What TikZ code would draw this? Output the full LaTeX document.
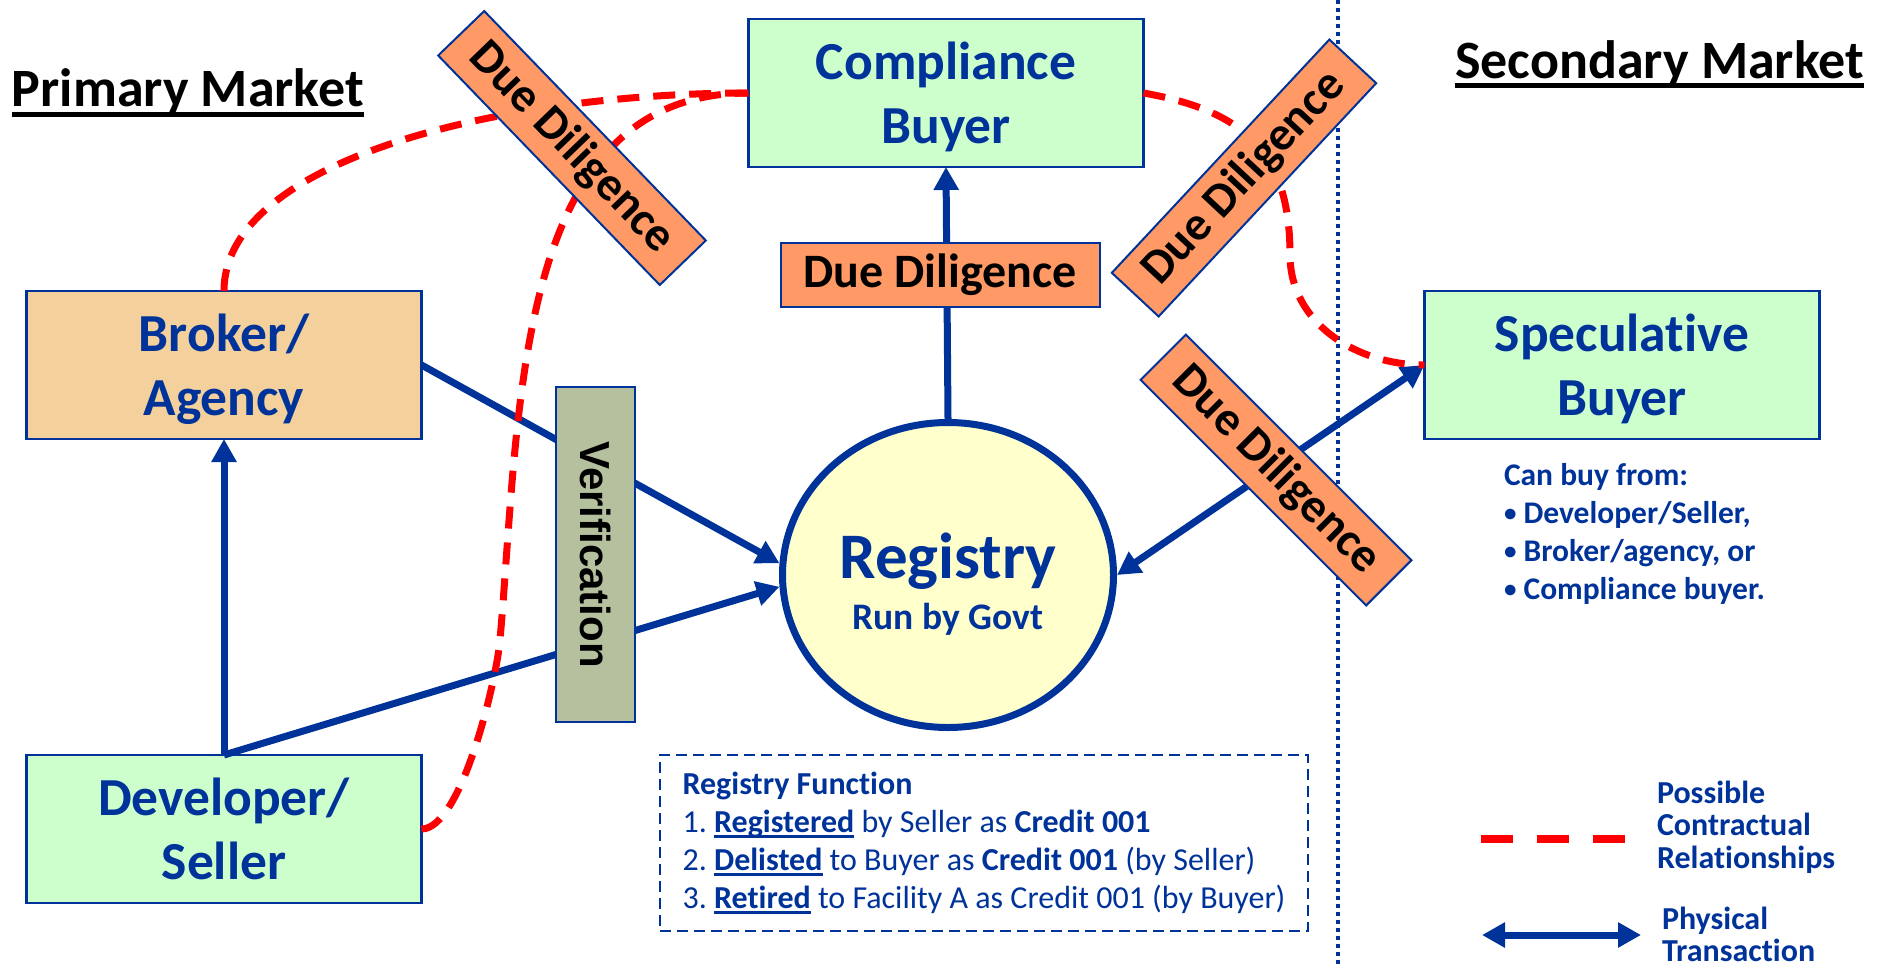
\documentclass[tikz,border=0pt]{standalone}
\usepackage{fontspec}
\setmainfont{Carlito}[Ligatures=NoCommon]
\newfontfamily\verifont{Liberation Sans}
\usepackage{tikz}
\usetikzlibrary{arrows.meta}
\usetikzlibrary{positioning}
\usetikzlibrary{shapes.geometric}
\definecolor{cbblue}{RGB}{0,51,153}
\definecolor{cbgreen}{RGB}{204,255,204}
\definecolor{cbtan}{RGB}{244,208,156}
\definecolor{cborange}{RGB}{255,153,102}
\definecolor{cbolive}{RGB}{181,193,158}
\definecolor{cbyellow}{RGB}{255,255,204}
\definecolor{cbred}{RGB}{255,0,0}
\tikzset{
% arrow tip for the transactions
>={Triangle[length=23pt,width=24pt]}
}
\newcommand{\barunder}[3]{\setbox0\hbox{#3}\rlap{\rule[-#1]{\wd0}{#2}}\box0}
\newcommand{\smallbullet}{{\fontsize{25}{38}\selectfont\raisebox{1.5pt}{\textbullet}}}
\frenchspacing

\begin{document}
\begin{tikzpicture}[x=1pt, y=1pt, inner sep=0, outer sep=0,
  party/.style={rectangle, draw=cbblue, line width=2.5pt, align=center,
    minimum width=395pt, minimum height=148pt, text=cbblue, text depth=0pt,
    font=\bfseries\fontsize{53.5}{64}\selectfont},
  ddbox/.style={rectangle, draw=cbblue, line width=2pt, fill=cborange,
    minimum width=319pt, minimum height=64pt,
    font=\bfseries\fontsize{48}{56}\selectfont},
  flow/.style={draw=cbblue, line width=7pt},
  contract/.style={draw=cbred, line width=7pt, dash pattern=on 22pt off 14pt}]
  \useasboundingbox (0,0) rectangle (1887,-964);

  \node[party, fill=cbgreen] (compliance) at (946,-93) {Compliance\\Buyer};
  \node[party, fill=cbtan] (broker) at (224,-365) {Broker/\\Agency};
  \node[party, fill=cbgreen] (developer) at (224,-829) {Developer/\\Seller};
  \node[party, fill=cbgreen] (speculative) at (1622,-365) {Speculative\\Buyer};

  \node[ellipse, draw=cbblue, line width=7pt, fill=cbyellow,
    outer sep=3.5pt,
    minimum width=331pt,
    minimum height=305pt] (registry) at (948,-575) {};
  \node[align=center, text=cbblue, font=\bfseries\fontsize{65}{51}\selectfont]
    (registry-text) at ([yshift=-9pt]registry.center)
    {Registry\\{\fontsize{37.5}{51}\selectfont Run by Govt}};

  \node[anchor=base west, font=\bfseries\fontsize{54}{60}\selectfont]
    (primary) at (12,-106) {\barunder{11pt}{5pt}{Primary Market}};
  \node[anchor=base east, font=\bfseries\fontsize{54}{60}\selectfont]
    (secondary) at (1864,-78) {\barunder{10pt}{5pt}{Secondary Market}};

  \coordinate (split-top) at (1338,0);
  \coordinate (split-bottom) at (1338,-964);
  \draw[cbblue, line width=4pt, dash pattern=on 4pt off 4pt] (split-top) -- (split-bottom);

  \draw[flow, ->] (developer.north) -- (broker.south);
  \draw[flow, ->] (developer.north) -- (registry.184);
  \draw[flow, ->] (broker.east) -- (registry.176);
  \draw[flow, ->] (registry.north) -- (compliance.south);
  \draw[flow, <->] (registry.east) -- (speculative.west);

  \coordinate (bend-dev) at (500,-640);
  \coordinate (bend-spec) at (1290,-255);
  \draw[contract] (broker.north) .. controls +(0,130) and +(-250,0) .. (compliance.west);
  \draw[contract] (developer.east) to[out=0, in=-95, looseness=0.5] (bend-dev)
    to[out=85, in=180] (compliance.west);
  \draw[contract] (compliance.east) to[out=-10, in=90, looseness=1.2] (bend-spec)
    to[out=-90, in=180] (speculative.west);

  \node[ddbox] (dd-top) at (940,-275) {Due Diligence};
  \node[ddbox, rotate=-46] (dd-left) at (572,-148) {Due Diligence};
  \node[ddbox, rotate=47] (dd-right) at (1244,-178) {Due Diligence};
  \node[ddbox, rotate=-45] (dd-low) at (1276,-470) {Due Diligence};

  \node[rectangle, draw=cbblue, line width=2.5pt, fill=cbolive,
    rotate=-90,
    minimum width=335pt,
    minimum height=79pt,
    font=\verifont\bfseries\fontsize{42}{48}\selectfont] (verification) at (595.5,-554.5) {Verification};

  \node[rectangle, draw=cbblue, line width=2.5pt, dash pattern=on 11pt off 6pt,
    align=left, text=cbblue,
    minimum width=648pt,
    minimum height=176pt,
    font=\fontsize{32}{38}\selectfont] (function) at (984,-843)
    {\textbf{Registry Function}\\
     1. \textbf{\barunder{5pt}{2.5pt}{Registered}} by Seller as \textbf{Credit 001}\\
     2. \textbf{\barunder{5pt}{2.5pt}{Delisted}} to Buyer as \textbf{Credit 001} (by Seller)\\
     3. \textbf{\barunder{5pt}{2.5pt}{Retired}} to Facility A as Credit 001 (by Buyer)};

  \node[anchor=north west, align=left, text=cbblue,
    font=\bfseries\fontsize{31.5}{38}\selectfont] (buy-from) at (1504,-463)
    {Can buy from:\\
     \smallbullet\ Developer/Seller,\\
     \smallbullet\ Broker/agency, or\\
     \smallbullet\ Compliance buyer.};

  \coordinate (contract-a) at (1481,-839);
  \coordinate (contract-b) at (1626,-839);
  \draw[contract, line width=8pt, dash pattern=on 32pt off 24pt] (contract-a) -- (contract-b);
  \node[anchor=north west, align=left, text=cbblue,
    font=\bfseries\fontsize{32}{32.5}\selectfont] (contract-text) at (1657,-781)
    {Possible\\Contractual\\Relationships};

  \coordinate (flow-a) at (1482,-935);
  \coordinate (flow-b) at (1641,-935);
  \draw[flow, <->] (flow-a) -- (flow-b);
  \node[anchor=north west, align=left, text=cbblue,
    font=\bfseries\fontsize{32}{32.5}\selectfont] (flow-text) at (1662,-907)
    {Physical\\Transaction};
\end{tikzpicture}
\end{document}
